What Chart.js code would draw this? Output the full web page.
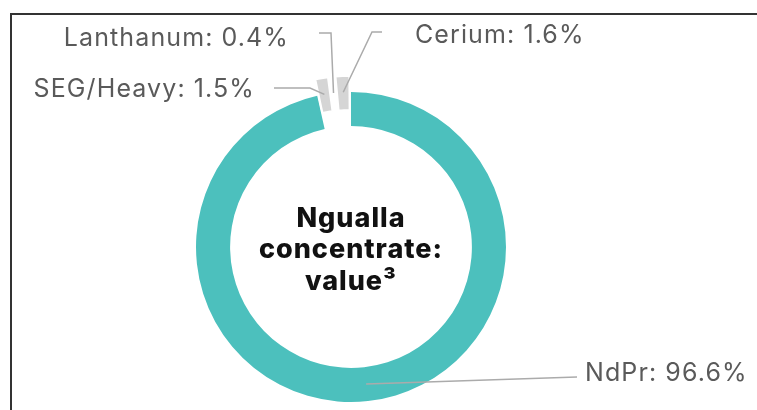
<!DOCTYPE html>
<html>
<head>
<meta charset="utf-8">
<script src="https://cdn.jsdelivr.net/npm/chart.js@4.4.1/dist/chart.umd.min.js"></script>
<style>
  html, body { margin: 0; padding: 0; background: #fff; }
</style>
</head>
<body>
<canvas id="concentrate" width="757" height="410"></canvas>
<script>
let elements = ['NdPr', 'SEG/Heavy', 'Lanthanum', 'Cerium'];
let shares = [96.6, 1.5, 0.4, 1.6];
let sliceColors = ['#4cc0bd', '#d5d5d5', '#d5d5d5', '#d5d5d5'];
let centerLines = ['Ngualla', 'concentrate:', 'value\u00b3'];

// label spot and the bends of each leader line (the line ends on its slice)
let callouts = [
  { at: [585, 373], align: 'left',  bends: [[577, 377]] },
  { at: [255, 89],  align: 'right', bends: [[274, 88], [310, 88]] },
  { at: [289, 38],  align: 'right', bends: [[319, 33], [331, 33]] },
  { at: [415, 35],  align: 'left',  bends: [[382, 32], [372, 32]] }
];

const calloutPlugin = {
  id: 'callouts',
  beforeDraw(chart) {
    // the frame round the picture
    const ctx = chart.ctx;
    ctx.save();
    ctx.strokeStyle = '#333';
    ctx.lineWidth = 2;
    ctx.beginPath();
    ctx.moveTo(11, 410);
    ctx.lineTo(11, 14);
    ctx.lineTo(757, 14);
    ctx.stroke();
    ctx.restore();
  },
  afterDatasetsDraw(chart) {
    const ctx = chart.ctx;
    const arcs = chart.getDatasetMeta(0).data;
    ctx.save();
    arcs.forEach((arc, i) => {
      const c = callouts[i];
      const p = arc.getProps(['x', 'y', 'startAngle', 'endAngle', 'innerRadius', 'outerRadius'], true);
      const mid = (p.startAngle + p.endAngle) / 2;
      const r = (p.innerRadius + p.outerRadius) / 2 + (arc.options.offset || 0) / 2;
      ctx.strokeStyle = '#ababab';
      ctx.lineWidth = 1.5;
      ctx.beginPath();
      ctx.moveTo(c.bends[0][0], c.bends[0][1]);
      c.bends.slice(1).forEach(b => ctx.lineTo(b[0], b[1]));
      ctx.lineTo(p.x + Math.cos(mid) * r, p.y + Math.sin(mid) * r);
      ctx.stroke();

      ctx.fillStyle = '#5a5a5a';
      ctx.font = '25px Inter';
      ctx.letterSpacing = '1.1px';
      ctx.textAlign = c.align;
      ctx.textBaseline = 'middle';
      ctx.fillText(elements[i] + ': ' + shares[i] + '%', c.at[0], c.at[1]);
    });

    const cx = arcs[0].x, cy = arcs[0].y;
    ctx.fillStyle = '#111';
    ctx.font = '800 27px Inter';
    ctx.letterSpacing = '1px';
    ctx.textAlign = 'center';
    ctx.textBaseline = 'alphabetic';
    ctx.fillText(centerLines[0], cx, cy - 20);
    ctx.fillText(centerLines[1], cx, cy + 11);
    ctx.fillText(centerLines[2], cx, cy + 43);
    ctx.restore();
  }
};

new Chart(document.getElementById('concentrate').getContext('2d'), {
  type: 'doughnut',
  data: {
    labels: elements,
    datasets: [{
      data: shares,
      backgroundColor: sliceColors,
      borderColor: '#fff',
      borderWidth: [0, 2, 2, 2],
      offset: [0, 34, 34, 34],
      clip: false
    }]
  },
  options: {
    responsive: false,
    animation: false,
    events: [],
    radius: 155,
    cutout: '78%',
    layout: { padding: { left: 0, right: 55, top: 84, bottom: 0 } },
    plugins: {
      legend: { display: false },
      tooltip: { enabled: false }
    }
  },
  plugins: [calloutPlugin]
});
</script>
</body>
</html>
